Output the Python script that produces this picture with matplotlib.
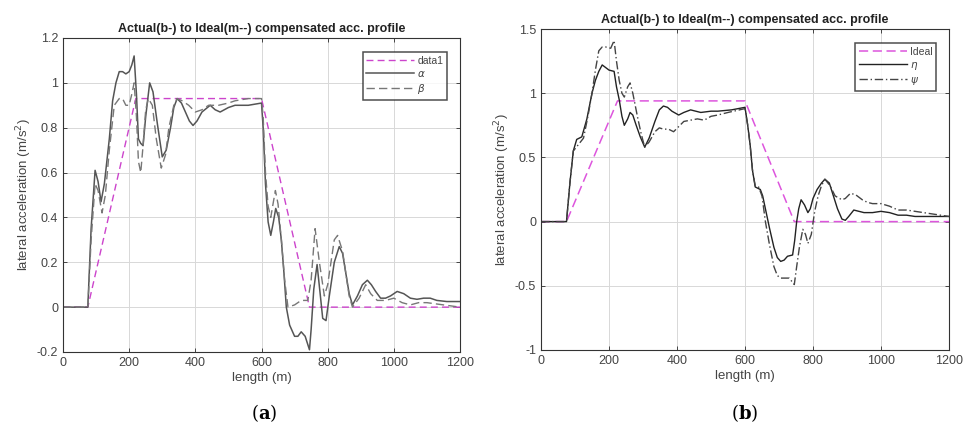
import matplotlib
matplotlib.use("Agg")
import matplotlib.pyplot as plt

plt.rcParams['font.family'] = ['Liberation Sans', 'DejaVu Sans']

title_text = "Actual(b-) to Ideal(m--) compensated acc. profile"
xlabel_text = "length (m)"
ylabel_text = "lateral acceleration (m/s$^2$)"

# ---- panel (a) ----
a_ideal_x = [0, 75, 220, 600, 745, 1200]
a_ideal_y = [0, 0, 0.93, 0.93, 0, 0]

a_alpha_x = [0, 75, 85, 97, 106, 115, 125, 140, 150, 160, 170, 180, 190, 200, 208, 215, 222, 228, 235, 242, 250, 262, 272, 285, 300, 312, 325, 335, 345, 358, 370, 382, 393, 405, 420, 445, 460, 475, 500, 520, 560, 600, 605, 612, 620, 628, 636, 643, 652, 660, 668, 675, 685, 700, 710, 720, 732, 745, 750, 758, 768, 778, 785, 795, 805, 820, 835, 845, 855, 865, 875, 890, 905, 920, 932, 945, 960, 975, 990, 1010, 1030, 1050, 1070, 1090, 1110, 1130, 1160, 1200]
a_alpha_y = [0, 0, 0.35, 0.61, 0.56, 0.47, 0.55, 0.75, 0.92, 1.0, 1.05, 1.05, 1.04, 1.05, 1.08, 1.12, 0.95, 0.75, 0.73, 0.72, 0.85, 1.0, 0.96, 0.82, 0.67, 0.7, 0.8, 0.89, 0.93, 0.91, 0.87, 0.83, 0.81, 0.83, 0.87, 0.9, 0.88, 0.87, 0.89, 0.9, 0.9, 0.91, 0.8, 0.55, 0.38, 0.32, 0.38, 0.44, 0.4, 0.3, 0.15, 0.0, -0.08, -0.13, -0.13, -0.11, -0.13, -0.19, -0.1, 0.08, 0.19, 0.05, -0.05, -0.06, 0.05, 0.2, 0.27, 0.24, 0.15, 0.06, 0.01, 0.05, 0.1, 0.12, 0.1, 0.07, 0.04, 0.04, 0.05, 0.07, 0.06, 0.04, 0.035, 0.04, 0.04, 0.03, 0.025, 0.025]

a_beta_x = [0, 75, 85, 97, 106, 118, 128, 140, 155, 170, 180, 190, 200, 208, 215, 222, 228, 235, 242, 250, 258, 270, 282, 297, 310, 320, 335, 345, 360, 380, 400, 420, 440, 470, 500, 520, 560, 600, 605, 612, 620, 628, 636, 642, 650, 660, 670, 680, 700, 720, 740, 750, 762, 775, 790, 800, 820, 830, 845, 855, 865, 875, 895, 915, 930, 950, 975, 1000, 1025, 1050, 1075, 1100, 1150, 1200]
a_beta_y = [0, 0, 0.3, 0.55, 0.52, 0.42, 0.5, 0.7, 0.9, 0.93, 0.93, 0.9, 0.9, 0.95, 1.0, 0.85, 0.65, 0.6, 0.72, 0.88, 0.93, 0.9, 0.75, 0.62, 0.68, 0.8, 0.9, 0.93, 0.92, 0.9, 0.87, 0.88, 0.9, 0.9, 0.91, 0.92, 0.93, 0.93, 0.85, 0.6, 0.45, 0.4, 0.47, 0.52, 0.46, 0.3, 0.12, 0.0, 0.01, 0.03, 0.03, 0.12, 0.35, 0.2, 0.05, 0.1, 0.3, 0.32, 0.25, 0.15, 0.05, 0.0, 0.04, 0.1, 0.06, 0.03, 0.03, 0.04, 0.02, 0.01, 0.02, 0.02, 0.01, 0.0]

# ---- panel (b) ----
b_ideal_x = [0, 75, 225, 600, 745, 1200]
b_ideal_y = [0, 0, 0.94, 0.94, 0, 0]

b_eta_x = [0, 75, 85, 95, 105, 120, 135, 150, 160, 170, 180, 190, 200, 215, 222, 230, 238, 245, 255, 262, 270, 280, 292, 305, 318, 335, 348, 360, 372, 385, 405, 420, 440, 455, 470, 500, 520, 560, 600, 608, 615, 622, 630, 645, 652, 660, 672, 685, 695, 705, 715, 725, 740, 746, 752, 758, 765, 775, 785, 792, 800, 812, 825, 835, 848, 860, 872, 885, 895, 905, 920, 935, 950, 975, 1000, 1025, 1050, 1075, 1100, 1150, 1200]
b_eta_y = [0, 0, 0.3, 0.55, 0.64, 0.66, 0.8, 1.0, 1.1, 1.17, 1.22, 1.2, 1.18, 1.17, 1.05, 0.95, 0.82, 0.75, 0.8, 0.85, 0.83, 0.75, 0.66, 0.58, 0.65, 0.78, 0.87, 0.9, 0.89, 0.86, 0.83, 0.85, 0.87, 0.86, 0.85, 0.86, 0.86, 0.87, 0.89, 0.75, 0.6, 0.4, 0.27, 0.25, 0.2, 0.1, -0.05, -0.2, -0.28, -0.31, -0.3, -0.27, -0.26, -0.15, 0.0, 0.1, 0.17, 0.13, 0.07, 0.1, 0.18, 0.25, 0.3, 0.33, 0.3, 0.2, 0.1, 0.02, 0.01, 0.04, 0.09, 0.08, 0.07, 0.07, 0.08, 0.07, 0.05, 0.05, 0.04, 0.04, 0.04]

b_psi_x = [0, 75, 85, 95, 110, 125, 138, 150, 160, 170, 180, 190, 205, 215, 222, 230, 238, 245, 255, 262, 270, 285, 295, 305, 318, 335, 348, 360, 375, 390, 405, 420, 440, 460, 480, 500, 520, 550, 600, 608, 615, 622, 630, 640, 650, 660, 672, 685, 695, 705, 720, 730, 745, 752, 760, 770, 778, 785, 795, 805, 815, 825, 835, 850, 865, 885, 895, 910, 925, 945, 960, 975, 1000, 1025, 1050, 1075, 1100, 1125, 1150, 1175, 1200]
b_psi_y = [0, 0, 0.3, 0.55, 0.6, 0.65, 0.82, 1.0, 1.18, 1.33, 1.36, 1.36, 1.35, 1.41, 1.25, 1.1, 1.0, 0.97, 1.05, 1.08, 1.0, 0.8, 0.68, 0.58, 0.62, 0.7, 0.73, 0.72, 0.72, 0.7, 0.74, 0.78, 0.79, 0.8, 0.79, 0.82, 0.83, 0.85, 0.88, 0.75, 0.6, 0.4, 0.28, 0.27, 0.2, 0.0, -0.18, -0.35, -0.42, -0.44, -0.44, -0.44, -0.49, -0.35, -0.2, -0.06, -0.1, -0.17, -0.1, 0.08, 0.2, 0.28, 0.33, 0.28, 0.2, 0.17, 0.18, 0.22, 0.21, 0.17, 0.15, 0.14, 0.14, 0.12, 0.09, 0.09, 0.08, 0.07, 0.06, 0.05, 0.04]

a_xticks = [0, 200, 400, 600, 800, 1000, 1200]
a_yticks = [-0.2, 0, 0.2, 0.4, 0.6, 0.8, 1.0, 1.2]
a_ytick_labels = ["-0.2", "0", "0.2", "0.4", "0.6", "0.8", "1", "1.2"]
b_yticks = [-1, -0.5, 0, 0.5, 1.0, 1.5]
b_ytick_labels = ["-1", "-0.5", "0", "0.5", "1", "1.5"]

W, H = 966, 432
fig = plt.figure(figsize=(W / 100, H / 100), dpi=100)

def style_axes(ax, yticks, ylabels, ylim):
    ax.set_xlim(0, 1200)
    ax.set_ylim(*ylim)
    ax.set_xticks(a_xticks)
    ax.set_xticklabels([str(t) for t in a_xticks])
    ax.set_yticks(yticks)
    ax.set_yticklabels(ylabels)
    ax.grid(True, color='#d8d8d8', linewidth=0.7)
    ax.tick_params(direction='in', top=True, right=True, labelsize=9,
                   colors='#444444', length=3, width=0.7)
    for s in ax.spines.values():
        s.set_color('#333333')
        s.set_linewidth(0.8)
    ax.set_xlabel(xlabel_text, fontsize=9.5, color='#444444', labelpad=2)
    ax.set_ylabel(ylabel_text, fontsize=9.5, color='#444444', labelpad=2)
    ax.set_title(title_text, fontsize=9, fontweight='bold', color='#222222', pad=4)

def style_legend(leg):
    leg.get_frame().set_linewidth(1.1)
    for t in leg.get_texts():
        t.set_color('#444444')

# panel a
axa = fig.add_axes([63 / W, 1 - 352 / H, (460 - 63) / W, (352 - 38) / H])
axa.plot(a_ideal_x, a_ideal_y, color='#cc44cc', linestyle=(0, (5, 3)), linewidth=1.0, label='data1')
axa.plot(a_alpha_x, a_alpha_y, color='#555555', linestyle='-', linewidth=1.1, label=r'$\alpha$')
axa.plot(a_beta_x, a_beta_y, color='#777777', linestyle=(0, (6, 3)), linewidth=1.0, label=r'$\beta$')
style_axes(axa, a_yticks, a_ytick_labels, (-0.2, 1.2))
leg = axa.legend(loc='upper right', fontsize=7.5, frameon=True, fancybox=False,
                 edgecolor='#222222', handlelength=4.6, handletextpad=0.3,
                 borderpad=0.35, labelspacing=0.3, borderaxespad=0,
                 bbox_to_anchor=((447 - 63) / (460 - 63), 1 - (52 - 38) / (352 - 38)))
style_legend(leg)

# panel b
axb = fig.add_axes([541 / W, 1 - 350 / H, (949 - 541) / W, (350 - 29) / H])
axb.plot(b_ideal_x, b_ideal_y, color='#dd55dd', linestyle=(0, (6, 3)), linewidth=1.1, label='Ideal')
axb.plot(b_eta_x, b_eta_y, color='#222222', linestyle='-', linewidth=1.0, label=r'$\eta$')
axb.plot(b_psi_x, b_psi_y, color='#444444', linestyle=(0, (6, 2, 1, 2)), linewidth=1.0, label=r'$\psi$')
style_axes(axb, b_yticks, b_ytick_labels, (-1, 1.5))
leg = axb.legend(loc='upper right', fontsize=7.5, frameon=True, fancybox=False,
                 edgecolor='#222222', handlelength=4.6, handletextpad=0.3,
                 borderpad=0.35, labelspacing=0.3, borderaxespad=0,
                 bbox_to_anchor=((936 - 541) / (949 - 541), 1 - (43 - 29) / (350 - 29)))
style_legend(leg)

fig.text(264 / W, 1 - 413 / H, r"($\mathbf{a}$)", ha='center', va='center', fontsize=13,
         family=['DejaVu Serif'], math_fontfamily='dejavuserif')
fig.text(745 / W, 1 - 413 / H, r"($\mathbf{b}$)", ha='center', va='center', fontsize=13,
         family=['DejaVu Serif'], math_fontfamily='dejavuserif')

fig.savefig("out.png", dpi=100)
